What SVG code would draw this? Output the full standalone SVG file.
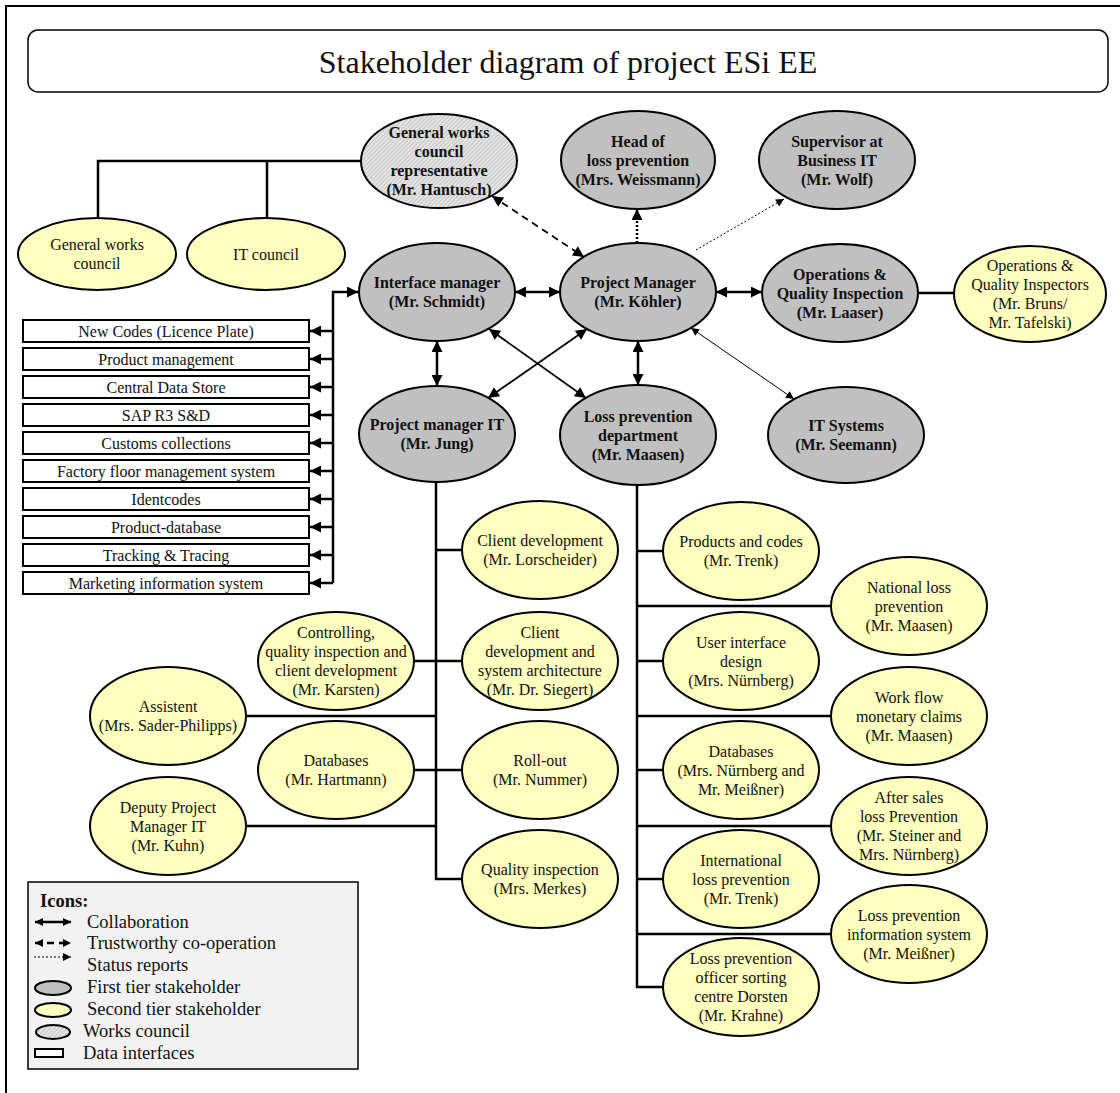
<svg xmlns="http://www.w3.org/2000/svg" width="1120" height="1093" viewBox="0 0 1120 1093">
  <style>
    .t1 { fill: #c0c0c0; stroke: #000; stroke-width: 2; }
    .t2 { fill: #ffffc0; stroke: #000; stroke-width: 2; }
    .wc { fill: url(#hatch); stroke: #000; stroke-width: 2; }
    .lb { font-family: "Liberation Serif", "Times New Roman", serif; font-size: 16px; font-weight: bold; text-anchor: middle; fill: #111; }
    .ln { font-family: "Liberation Serif", "Times New Roman", serif; font-size: 16px; text-anchor: middle; fill: #111; }
    .box { fill: #fff; stroke: #000; stroke-width: 2; }
    .bt { font-family: "Liberation Serif", "Times New Roman", serif; font-size: 16px; text-anchor: middle; fill: #111; }
    .c { fill: none; stroke: #000; stroke-width: 2.5; }
    .cm { fill: none; stroke: #000; stroke-width: 1.8; }
    .ct { fill: none; stroke: #000; stroke-width: 1; }
    .dash { stroke-dasharray: 7 5; }
    .dot { stroke-dasharray: 2 2; }
    .lg { font-family: "Liberation Serif", "Times New Roman", serif; font-size: 18.5px; fill: #111; }
  </style>
  <defs>
    <pattern id="hatch" width="3" height="3" patternUnits="userSpaceOnUse" patternTransform="rotate(45)">
      <rect width="3" height="3" fill="#e4e4e4"/>
      <line x1="0" y1="0" x2="0" y2="3" stroke="#a8a8a8" stroke-width="1"/>
    </pattern>
    <marker id="ah" viewBox="0 0 10 10" refX="10" refY="5" markerWidth="12" markerHeight="11" markerUnits="userSpaceOnUse" orient="auto-start-reverse">
      <path d="M0,0 L10,5 L0,10 z" fill="#000"/>
    </marker>
    <marker id="ahs" viewBox="0 0 10 10" refX="10" refY="5" markerWidth="10" markerHeight="8" markerUnits="userSpaceOnUse" orient="auto-start-reverse">
      <path d="M0,0 L10,5 L0,10 z" fill="#000"/>
    </marker>
  </defs>

  <!-- frame and title -->
  <rect x="6" y="6" width="1300" height="1300" fill="#fff" stroke="#000" stroke-width="2"/>
  <g id="title">
    <rect x="28" y="30" width="1080" height="62" rx="10" fill="#fff" stroke="#000" stroke-width="1.5"/>
    <text x="568" y="73" font-family="'Liberation Serif', 'Times New Roman', serif" font-size="32" text-anchor="middle" fill="#111">Stakeholder diagram of project ESi EE</text>
  </g>

  <!-- connectors -->
  <g id="connectors">
    <!-- works council bus -->
    <path class="c" stroke-width="2" d="M361,161 H98 V218 M267,161 V218"/>
    <!-- trustworthy co-operation -->
    <line class="cm dash" x1="492" y1="196" x2="584" y2="257" marker-start="url(#ah)" marker-end="url(#ah)"/>
    <!-- status reports -->
    <line class="c dot" stroke-width="3" x1="637" y1="243" x2="637" y2="209" marker-end="url(#ah)"/>
    <line class="ct dot" x1="696" y1="250" x2="784" y2="199" marker-end="url(#ahs)"/>
    <!-- collaboration -->
    <line class="c" x1="515" y1="292" x2="560" y2="292" marker-start="url(#ah)" marker-end="url(#ah)"/>
    <line class="c" x1="716" y1="292" x2="762" y2="292" marker-start="url(#ah)" marker-end="url(#ah)"/>
    <line class="c" x1="918" y1="293" x2="954" y2="293"/>
    <line class="c" x1="437" y1="341" x2="437" y2="386" marker-start="url(#ah)" marker-end="url(#ah)"/>
    <line class="c" x1="638" y1="341" x2="638" y2="385" marker-start="url(#ah)" marker-end="url(#ah)"/>
    <line class="cm" x1="489" y1="329" x2="586" y2="398" marker-start="url(#ah)" marker-end="url(#ah)"/>
    <line class="cm" x1="587" y1="329" x2="488" y2="398" marker-start="url(#ah)" marker-end="url(#ah)"/>
    <line class="ct" x1="691" y1="328" x2="794" y2="399" marker-start="url(#ahs)" marker-end="url(#ahs)"/>
    <!-- data interface bus -->
    <path class="c" d="M333,583 V292 H358" marker-end="url(#ah)"/>
    <line class="c" x1="333" y1="331" x2="310" y2="331" marker-end="url(#ah)"/>
    <line class="c" x1="333" y1="359" x2="310" y2="359" marker-end="url(#ah)"/>
    <line class="c" x1="333" y1="387" x2="310" y2="387" marker-end="url(#ah)"/>
    <line class="c" x1="333" y1="415" x2="310" y2="415" marker-end="url(#ah)"/>
    <line class="c" x1="333" y1="443" x2="310" y2="443" marker-end="url(#ah)"/>
    <line class="c" x1="333" y1="471" x2="310" y2="471" marker-end="url(#ah)"/>
    <line class="c" x1="333" y1="499" x2="310" y2="499" marker-end="url(#ah)"/>
    <line class="c" x1="333" y1="527" x2="310" y2="527" marker-end="url(#ah)"/>
    <line class="c" x1="333" y1="555" x2="310" y2="555" marker-end="url(#ah)"/>
    <line class="c" x1="333" y1="583" x2="310" y2="583" marker-end="url(#ah)"/>
    <!-- project manager IT tree -->
    <path class="c" d="M436,482 V879 H462"/>
    <path class="c" stroke-width="2" d="M436,550 H462 M414,661 H462 M246,716 H436 M414,770 H462 M246,826 H436"/>
    <!-- loss prevention department tree -->
    <path class="c" d="M637,485 V987 H663"/>
    <path class="c" stroke-width="2" d="M637,551 H663 M637,606 H831 M637,661 H663 M637,716 H831 M637,770 H663 M637,826 H831 M637,879 H663 M637,934 H831"/>
  </g>

  <!-- first tier and works council -->
  <g id="gwc-rep">
    <ellipse class="wc" cx="439" cy="161" rx="78" ry="47"/>
    <text class="lb" x="439" y="138">General works</text>
    <text class="lb" x="439" y="157">council</text>
    <text class="lb" x="439" y="176">representative</text>
    <text class="lb" x="439" y="195">(Mr. Hantusch)</text>
  </g>
  <g id="head-loss-prevention">
    <ellipse class="t1" cx="638" cy="160" rx="77" ry="49"/>
    <text class="lb" x="638" y="146.5">Head of</text>
    <text class="lb" x="638" y="165.5">loss prevention</text>
    <text class="lb" x="638" y="184.5">(Mrs. Weissmann)</text>
  </g>
  <g id="supervisor-business-it">
    <ellipse class="t1" cx="837" cy="160" rx="78" ry="49"/>
    <text class="lb" x="837" y="146.5">Supervisor at</text>
    <text class="lb" x="837" y="165.5">Business IT</text>
    <text class="lb" x="837" y="184.5">(Mr. Wolf)</text>
  </g>
  <g id="interface-manager">
    <ellipse class="t1" cx="437" cy="292" rx="78" ry="49"/>
    <text class="lb" x="437" y="288">Interface manager</text>
    <text class="lb" x="437" y="307">(Mr. Schmidt)</text>
  </g>
  <g id="project-manager">
    <ellipse class="t1" cx="638" cy="292" rx="78" ry="49"/>
    <text class="lb" x="638" y="288">Project Manager</text>
    <text class="lb" x="638" y="307">(Mr. Köhler)</text>
  </g>
  <g id="operations-quality">
    <ellipse class="t1" cx="840" cy="293" rx="78" ry="49"/>
    <text class="lb" x="840" y="279.5">Operations &amp;</text>
    <text class="lb" x="840" y="298.5">Quality Inspection</text>
    <text class="lb" x="840" y="317.5">(Mr. Laaser)</text>
  </g>
  <g id="project-manager-it">
    <ellipse class="t1" cx="437" cy="434" rx="78" ry="48"/>
    <text class="lb" x="437" y="430">Project manager IT</text>
    <text class="lb" x="437" y="449">(Mr. Jung)</text>
  </g>
  <g id="loss-prevention-department">
    <ellipse class="t1" cx="638" cy="435" rx="78" ry="50"/>
    <text class="lb" x="638" y="421.5">Loss prevention</text>
    <text class="lb" x="638" y="440.5">department</text>
    <text class="lb" x="638" y="459.5">(Mr. Maasen)</text>
  </g>
  <g id="it-systems">
    <ellipse class="t1" cx="846" cy="435" rx="78" ry="48"/>
    <text class="lb" x="846" y="431">IT Systems</text>
    <text class="lb" x="846" y="450">(Mr. Seemann)</text>
  </g>

  <!-- second tier -->
  <g id="general-works-council">
    <ellipse class="t2" cx="97" cy="254" rx="79" ry="36"/>
    <text class="ln" x="97" y="250">General works</text>
    <text class="ln" x="97" y="269">council</text>
  </g>
  <g id="it-council">
    <ellipse class="t2" cx="266" cy="254" rx="79" ry="36"/>
    <text class="ln" x="266" y="259.5">IT council</text>
  </g>
  <g id="operations-inspectors">
    <ellipse class="t2" cx="1030" cy="294" rx="76" ry="48"/>
    <text class="ln" x="1030" y="271">Operations &amp;</text>
    <text class="ln" x="1030" y="290">Quality Inspectors</text>
    <text class="ln" x="1030" y="309">(Mr. Bruns/</text>
    <text class="ln" x="1030" y="328">Mr. Tafelski)</text>
  </g>
  <g id="client-development">
    <ellipse class="t2" cx="540" cy="550" rx="78" ry="49"/>
    <text class="ln" x="540" y="546">Client development</text>
    <text class="ln" x="540" y="565">(Mr. Lorscheider)</text>
  </g>
  <g id="controlling">
    <ellipse class="t2" cx="336" cy="661" rx="78" ry="49"/>
    <text class="ln" x="336" y="638">Controlling,</text>
    <text class="ln" x="336" y="657">quality inspection and</text>
    <text class="ln" x="336" y="676">client development</text>
    <text class="ln" x="336" y="695">(Mr. Karsten)</text>
  </g>
  <g id="client-system-architecture">
    <ellipse class="t2" cx="540" cy="661" rx="78" ry="49"/>
    <text class="ln" x="540" y="638">Client</text>
    <text class="ln" x="540" y="657">development and</text>
    <text class="ln" x="540" y="676">system architecture</text>
    <text class="ln" x="540" y="695">(Mr. Dr. Siegert)</text>
  </g>
  <g id="assistent">
    <ellipse class="t2" cx="168" cy="716" rx="78" ry="49"/>
    <text class="ln" x="168" y="712">Assistent</text>
    <text class="ln" x="168" y="731">(Mrs. Sader-Philipps)</text>
  </g>
  <g id="databases-hartmann">
    <ellipse class="t2" cx="336" cy="770" rx="78" ry="49"/>
    <text class="ln" x="336" y="766">Databases</text>
    <text class="ln" x="336" y="785">(Mr. Hartmann)</text>
  </g>
  <g id="roll-out">
    <ellipse class="t2" cx="540" cy="770" rx="78" ry="49"/>
    <text class="ln" x="540" y="766">Roll-out</text>
    <text class="ln" x="540" y="785">(Mr. Nummer)</text>
  </g>
  <g id="deputy-pm-it">
    <ellipse class="t2" cx="168" cy="826" rx="78" ry="49"/>
    <text class="ln" x="168" y="812.5">Deputy Project</text>
    <text class="ln" x="168" y="831.5">Manager IT</text>
    <text class="ln" x="168" y="850.5">(Mr. Kuhn)</text>
  </g>
  <g id="quality-inspection">
    <ellipse class="t2" cx="540" cy="879" rx="78" ry="49"/>
    <text class="ln" x="540" y="875">Quality inspection</text>
    <text class="ln" x="540" y="894">(Mrs. Merkes)</text>
  </g>
  <g id="products-codes">
    <ellipse class="t2" cx="741" cy="551" rx="78" ry="49"/>
    <text class="ln" x="741" y="547">Products and codes</text>
    <text class="ln" x="741" y="566">(Mr. Trenk)</text>
  </g>
  <g id="national-loss-prevention">
    <ellipse class="t2" cx="909" cy="606" rx="78" ry="49"/>
    <text class="ln" x="909" y="592.5">National loss</text>
    <text class="ln" x="909" y="611.5">prevention</text>
    <text class="ln" x="909" y="630.5">(Mr. Maasen)</text>
  </g>
  <g id="user-interface-design">
    <ellipse class="t2" cx="741" cy="661" rx="78" ry="49"/>
    <text class="ln" x="741" y="647.5">User interface</text>
    <text class="ln" x="741" y="666.5">design</text>
    <text class="ln" x="741" y="685.5">(Mrs. Nürnberg)</text>
  </g>
  <g id="work-flow-claims">
    <ellipse class="t2" cx="909" cy="716" rx="78" ry="49"/>
    <text class="ln" x="909" y="702.5">Work flow</text>
    <text class="ln" x="909" y="721.5">monetary claims</text>
    <text class="ln" x="909" y="740.5">(Mr. Maasen)</text>
  </g>
  <g id="databases-lp">
    <ellipse class="t2" cx="741" cy="770" rx="78" ry="49"/>
    <text class="ln" x="741" y="756.5">Databases</text>
    <text class="ln" x="741" y="775.5">(Mrs. Nürnberg and</text>
    <text class="ln" x="741" y="794.5">Mr. Meißner)</text>
  </g>
  <g id="after-sales">
    <ellipse class="t2" cx="909" cy="826" rx="78" ry="49"/>
    <text class="ln" x="909" y="803">After sales</text>
    <text class="ln" x="909" y="822">loss Prevention</text>
    <text class="ln" x="909" y="841">(Mr. Steiner and</text>
    <text class="ln" x="909" y="860">Mrs. Nürnberg)</text>
  </g>
  <g id="international-loss-prevention">
    <ellipse class="t2" cx="741" cy="879" rx="78" ry="49"/>
    <text class="ln" x="741" y="865.5">International</text>
    <text class="ln" x="741" y="884.5">loss prevention</text>
    <text class="ln" x="741" y="903.5">(Mr. Trenk)</text>
  </g>
  <g id="lp-information-system">
    <ellipse class="t2" cx="909" cy="934" rx="78" ry="49"/>
    <text class="ln" x="909" y="920.5">Loss prevention</text>
    <text class="ln" x="909" y="939.5">information system</text>
    <text class="ln" x="909" y="958.5">(Mr. Meißner)</text>
  </g>
  <g id="lp-officer-dorsten">
    <ellipse class="t2" cx="741" cy="987" rx="78" ry="49"/>
    <text class="ln" x="741" y="964">Loss prevention</text>
    <text class="ln" x="741" y="983">officer sorting</text>
    <text class="ln" x="741" y="1002">centre Dorsten</text>
    <text class="ln" x="741" y="1021">(Mr. Krahne)</text>
  </g>

  <!-- data interfaces -->
  <g id="di-new-codes"><rect class="box" x="23" y="320" width="286" height="22"/><text class="bt" x="166" y="337">New Codes (Licence Plate)</text></g>
  <g id="di-product-management"><rect class="box" x="23" y="348" width="286" height="22"/><text class="bt" x="166" y="365">Product management</text></g>
  <g id="di-central-data-store"><rect class="box" x="23" y="376" width="286" height="22"/><text class="bt" x="166" y="393">Central Data Store</text></g>
  <g id="di-sap"><rect class="box" x="23" y="404" width="286" height="22"/><text class="bt" x="166" y="421">SAP R3 S&amp;D</text></g>
  <g id="di-customs"><rect class="box" x="23" y="432" width="286" height="22"/><text class="bt" x="166" y="449">Customs collections</text></g>
  <g id="di-factory-floor"><rect class="box" x="23" y="460" width="286" height="22"/><text class="bt" x="166" y="477">Factory floor management system</text></g>
  <g id="di-identcodes"><rect class="box" x="23" y="488" width="286" height="22"/><text class="bt" x="166" y="505">Identcodes</text></g>
  <g id="di-product-database"><rect class="box" x="23" y="516" width="286" height="22"/><text class="bt" x="166" y="533">Product-database</text></g>
  <g id="di-tracking"><rect class="box" x="23" y="544" width="286" height="22"/><text class="bt" x="166" y="561">Tracking &amp; Tracing</text></g>
  <g id="di-marketing"><rect class="box" x="23" y="572" width="286" height="22"/><text class="bt" x="166" y="589">Marketing information system</text></g>

  <!-- legend -->
  <g id="legend">
    <rect x="28" y="882" width="330" height="187" fill="#f2f2f2" stroke="#000" stroke-width="1.5"/>
    <text class="lg" x="40" y="907" font-weight="bold">Icons:</text>
    <line class="c" stroke-width="2" x1="35" y1="922" x2="71" y2="922" marker-start="url(#ahs)" marker-end="url(#ahs)"/>
    <text class="lg" x="87" y="928">Collaboration</text>
    <line class="c dash" stroke-width="2" stroke-dasharray="5 5" x1="35" y1="943" x2="71" y2="943" marker-start="url(#ahs)" marker-end="url(#ahs)"/>
    <text class="lg" x="87" y="949">Trustworthy co-operation</text>
    <line class="ct dot" x1="34" y1="957" x2="71" y2="957" marker-end="url(#ahs)"/>
    <text class="lg" x="87" y="971">Status reports</text>
    <ellipse class="t1" cx="53" cy="988" rx="18" ry="7"/>
    <text class="lg" x="87" y="993">First tier stakeholder</text>
    <ellipse class="t2" cx="53" cy="1010" rx="18" ry="7"/>
    <text class="lg" x="87" y="1015">Second tier stakeholder</text>
    <ellipse class="wc" cx="53" cy="1032" rx="17" ry="7"/>
    <text class="lg" x="83" y="1037">Works council</text>
    <rect x="35" y="1049" width="28" height="8" fill="#fff" stroke="#000" stroke-width="2"/>
    <text class="lg" x="83" y="1059">Data interfaces</text>
  </g>
</svg>
